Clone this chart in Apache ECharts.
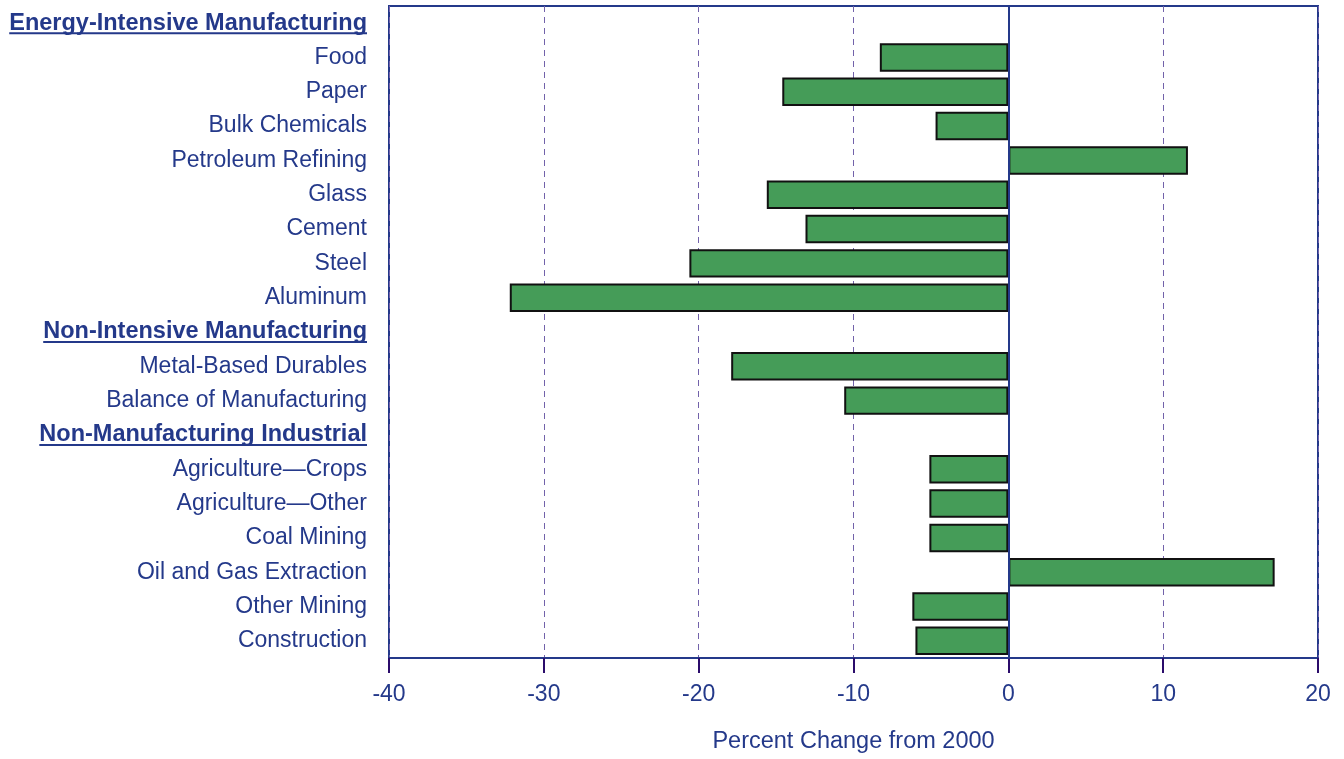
<!DOCTYPE html>
<html><head><meta charset="utf-8">
<script src="https://cdn.jsdelivr.net/npm/echarts@6/dist/echarts.min.js"></script>
<style>html,body{margin:0;padding:0;background:#fff}#c{width:1344px;height:759px}</style>
</head><body><div id="c"></div>
<script>
const categories = ["Energy-Intensive Manufacturing","Food","Paper","Bulk Chemicals","Petroleum Refining","Glass","Cement","Steel","Aluminum","Non-Intensive Manufacturing","Metal-Based Durables","Balance of Manufacturing","Non-Manufacturing Industrial","Agriculture\u2014Crops","Agriculture\u2014Other","Coal Mining","Oil and Gas Extraction","Other Mining","Construction"];
const headers = ["Energy-Intensive Manufacturing","Non-Intensive Manufacturing","Non-Manufacturing Industrial"];
const values = [null,-8.3,-14.6,-4.7,11.6,-15.6,-13.1,-20.6,-32.2,null,-17.9,-10.6,null,-5.1,-5.1,-5.1,17.2,-6.2,-6.0];
const xTicks = [-40,-30,-20,-10,0,10,20];
const xName = "Percent Change from 2000";

const FONT = "'Liberation Sans', Arial, sans-serif";
const TXT = "#24398a";
const FS = 23;
const HFS = 23.5;
const chart = echarts.init(document.getElementById('c'));
const option = {
  animation:false,
  grid:{left:389,right:26,top:6,bottom:93,show:true,borderColor:TXT,borderWidth:2,backgroundColor:'transparent'},
  xAxis:{type:'value',min:xTicks[0],max:xTicks[xTicks.length-1],interval:10,
    name:xName,nameLocation:'middle',nameGap:72,
    nameTextStyle:{color:TXT,fontSize:23.5,fontFamily:FONT},
    axisLine:{show:true,onZero:false,lineStyle:{color:TXT,width:2}},
    axisTick:{show:true,length:15,inside:false,lineStyle:{color:'#2b0c6b',width:2}},
    axisLabel:{color:TXT,fontSize:FS,fontFamily:FONT,margin:25},
    splitLine:{show:true,lineStyle:{color:'#7262aa',type:[6,5],width:1}}
  },
  yAxis:{type:'category',data:categories,inverse:true,z:5,
    axisLine:{show:true,onZero:true,lineStyle:{color:TXT,width:2}},
    axisTick:{show:false},
    axisLabel:{color:TXT,fontSize:FS,fontFamily:FONT,margin:22,
      formatter:function(v){return headers.indexOf(v)>=0?'{h|'+v+'}':v;},
      rich:{h:{fontWeight:'bold',color:TXT,fontSize:HFS,fontFamily:FONT}}}
  },
  series:[{type:'bar',data:values,barCategoryGap:'17%',
    itemStyle:{color:'#459c58',borderColor:'#111',borderWidth:2}}]
};
chart.setOption(option);
// underline header labels
const cv=document.createElement('canvas').getContext('2d');
cv.font="bold "+HFS+"px "+FONT;
const rightX = chart.convertToPixel({xAxisIndex:0}, xTicks[0]) - 22;
const g=[];
headers.forEach(h=>{
  const y=chart.convertToPixel({yAxisIndex:0},h);
  const w=cv.measureText(h).width;
  g.push({type:'line',shape:{x1:rightX-w,y1:y+10,x2:rightX,y2:y+10},style:{stroke:TXT,lineWidth:2}});
});
chart.setOption({graphic:g});
</script></body></html>
